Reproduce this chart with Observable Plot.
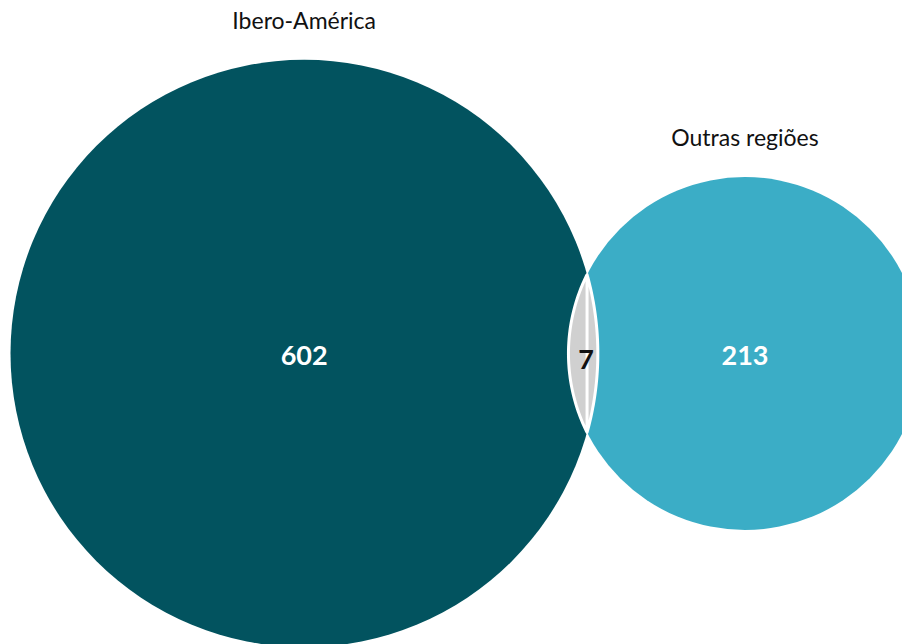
<!DOCTYPE html>
<html><head><meta charset="utf-8">
<script src="https://cdn.jsdelivr.net/npm/d3@7"></script>
<script src="https://cdn.jsdelivr.net/npm/@observablehq/plot@0.6"></script>
<style>html,body{margin:0;padding:0;background:#fff;overflow:hidden}</style>
</head><body><div id="chart"></div>
<script>
// Data
const setNames = ["Ibero-América", "Outras regiões"];
const exclusiveCounts = [602, 213];
const sharedCount = 7;
const setColors = ["#02535f", "#3badc6"];
const lensColor = "#d0d0d0";

const W = 902, H = 644;
const K = 11.9;           // px per sqrt(unit) for the radius (area-proportional)
const padLeft = 10, centerY = 353, labelGap = 38;

const totals = exclusiveCounts.map(c => c + sharedCount);
const radii = totals.map(t => K * Math.sqrt(t));

function lensArea(d, r1, r2) {
  if (d >= r1 + r2) return 0;
  if (d <= Math.abs(r1 - r2)) return Math.PI * Math.min(r1, r2) ** 2;
  const a1 = Math.acos((d*d + r1*r1 - r2*r2) / (2*d*r1));
  const a2 = Math.acos((d*d + r2*r2 - r1*r1) / (2*d*r2));
  return r1*r1*a1 + r2*r2*a2 - 0.5*Math.sqrt((-d+r1+r2)*(d+r1-r2)*(d-r1+r2)*(d+r1+r2));
}
const target = Math.PI * K * K * sharedCount;
let lo = Math.abs(radii[0]-radii[1]), hi = radii[0]+radii[1];
for (let i = 0; i < 100; i++) {
  const mid = (lo+hi)/2;
  if (lensArea(mid, radii[0], radii[1]) > target) lo = mid; else hi = mid;
}
const dist = (lo+hi)/2;

const cxA = padLeft + radii[0];
const cxB = cxA + dist;
const circles = [
  {name: setNames[0], count: exclusiveCounts[0], total: totals[0], x: cxA, y: centerY, r: radii[0], color: setColors[0]},
  {name: setNames[1], count: exclusiveCounts[1], total: totals[1], x: cxB, y: centerY, r: radii[1], color: setColors[1]}
];

// lens polygon
const r1 = radii[0], r2 = radii[1];
const a = (dist*dist + r1*r1 - r2*r2) / (2*dist);
const h = Math.sqrt(r1*r1 - a*a);
const thA = Math.atan2(h, a);
const thB = Math.atan2(h, dist - a);
const lens = [];
const N = 80;
for (let i = 0; i <= N; i++) {
  const t = -thA + 2*thA*i/N;
  lens.push({x: cxA + r1*Math.cos(t), y: centerY + r1*Math.sin(t)});
}
for (let i = 0; i <= N; i++) {
  const t = Math.PI - thB + 2*thB*i/N;
  lens.push({x: cxB + r2*Math.cos(t), y: centerY - r2*Math.sin(t)});
}
lens.push(lens[0]);
const lensLabel = [{x: ((cxB - r2) + (cxA + r1))/2, y: centerY, text: String(sharedCount)}];

const plot = Plot.plot({
  width: W, height: H,
  margin: 0,
  x: {domain: [0, W], range: [0, W], axis: null},
  y: {domain: [0, H], range: [0, H], axis: null},
  r: {type: "sqrt", domain: [0, 1], range: [0, K]},
  style: {fontFamily: "Lato, sans-serif", background: "white", overflow: "hidden"},
  marks: [
    Plot.dot(circles, {x: "x", y: "y", r: "total", fill: "color", stroke: null}),
    Plot.line(lens, {x: "x", y: "y", fill: lensColor, stroke: "white", strokeWidth: 3, curve: "linear"}),
    Plot.text(circles, {x: "x", y: "y", text: d => String(d.count), fill: "white", fontSize: 27, fontWeight: "bold", dy: 3}),
    Plot.text(lensLabel, {x: "x", y: "y", text: "text", fill: "#111", fontSize: 27, fontWeight: "bold", dy: 7, dx: 3}),
    Plot.text(circles, {x: "x", y: d => d.y - d.r - labelGap, text: "name", fill: "#111", fontSize: 23})
  ]
});
document.getElementById("chart").appendChild(plot);
</script>
</body></html>
